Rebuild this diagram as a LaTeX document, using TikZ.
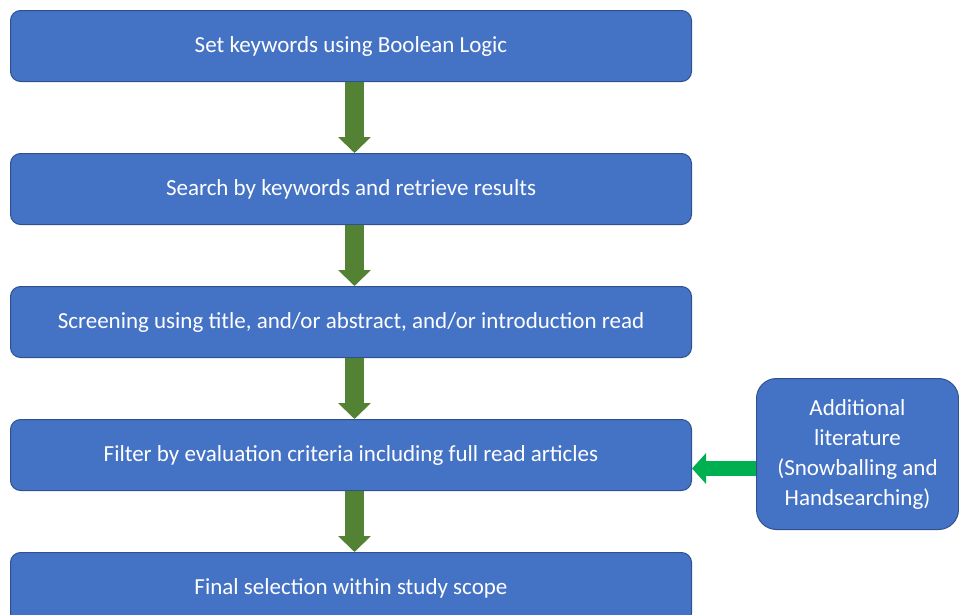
\documentclass[tikz,border=0pt]{standalone}
\usepackage{fontspec}
\setmainfont{Carlito}
\usetikzlibrary{arrows.meta}
\definecolor{boxfill}{HTML}{4472C4}
\definecolor{boxline}{HTML}{2F528F}
\definecolor{stepgreen}{HTML}{548235}
\definecolor{sidegreen}{HTML}{00B050}
\tikzset{
  stagebox/.style={draw=boxline, line width=1pt, fill=boxfill, rounded corners=10pt,
    minimum width=681pt, minimum height=71pt, anchor=north west, inner sep=0pt,
    text=white, font=\fontsize{23}{28}\selectfont},
  sidebox/.style={draw=boxline, line width=1pt, fill=boxfill, rounded corners=20pt,
    minimum width=202pt, minimum height=151pt, anchor=north west, inner sep=0pt,
    text=white, align=center, font=\fontsize{23}{30}\selectfont},
  downarrow/.style={draw=stepgreen, line width=19pt,
    -{Triangle[width=32pt,length=16pt]}},
  leftarrow/.style={draw=sidegreen, line width=15pt,
    -{Triangle[width=30pt,length=14pt]}}
}
\begin{document}
\begin{tikzpicture}[x=1pt,y=-1pt]
  \path[use as bounding box] (0,0) rectangle (959,614);
  \begin{scope}
  \clip (0,0) rectangle (959,614);
  \node[stagebox] (b1) at (10,10)  {Set keywords using Boolean Logic};
  \node[stagebox] (b2) at (10,153) {Search by keywords and retrieve results};
  \node[stagebox] (b3) at (10,286) {Screening using title, and/or abstract, and/or introduction read};
  \node[stagebox] (b4) at (10,419) {Filter by evaluation criteria including full read articles};
  \node[stagebox] (b5) at (10,552) {Final selection within study scope};
  \node[sidebox]  (add) at (756,378) {Additional\\literature\\(Snowballing and\\Handsearching)};

  \draw[downarrow] ([xshift=3.5pt]b1.south) -- ([xshift=3.5pt]b2.north);
  \draw[downarrow] ([xshift=3.5pt]b2.south) -- ([xshift=3.5pt]b3.north);
  \draw[downarrow] ([xshift=3.5pt]b3.south) -- ([xshift=3.5pt]b4.north);
  \draw[downarrow] ([xshift=3.5pt]b4.south) -- ([xshift=3.5pt]b5.north);

  \coordinate (sideout) at ([yshift=-14.5pt]add.west);
  \draw[leftarrow] (sideout) -- (b4.east |- sideout);
  \end{scope}
\end{tikzpicture}
\end{document}
